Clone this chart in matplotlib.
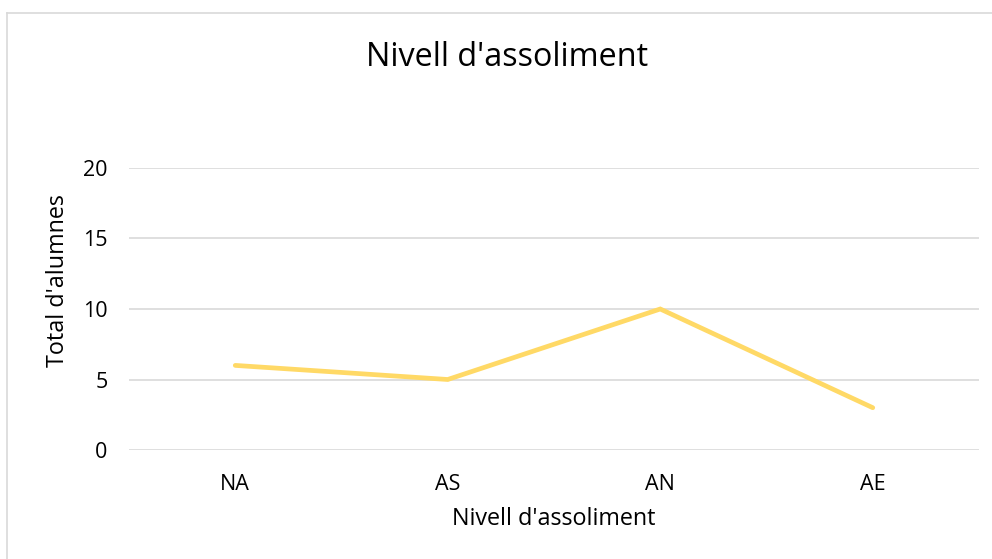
import matplotlib
matplotlib.use("Agg")
import matplotlib.pyplot as plt
from matplotlib.lines import Line2D

categories = ["NA", "AS", "AN", "AE"]
values = [6, 5, 10, 3]
yticks = [0, 5, 10, 15, 20]
title = "Nivell d'assoliment"
xlabel = "Nivell d'assoliment"
ylabel = "Total d'alumnes"

plt.rcParams['font.family'] = ['Open Sans', 'DejaVu Sans']

W, H = 992, 559
fig = plt.figure(figsize=(W / 100, H / 100), dpi=100)
fig.patch.set_facecolor('white')

# chart border (top and left visible)
fig.add_artist(Line2D([7 / W, 7 / W], [0, 1 - 13 / H], transform=fig.transFigure,
                      color='#D9D9D9', lw=1.2))
fig.add_artist(Line2D([7 / W, 1], [1 - 13 / H, 1 - 13 / H], transform=fig.transFigure,
                      color='#D9D9D9', lw=1.2))

left, right = 129 / W, 979 / W
bottom, top = 1 - 450 / H, 1 - 168 / H
ax = fig.add_axes([left, bottom, right - left, top - bottom])

x = list(range(len(categories)))
ax.plot(x, values, color='#FFD966', lw=3.4, solid_capstyle='round', solid_joinstyle='miter', zorder=3)

ax.set_xlim(-0.5, len(categories) - 0.5)
ax.set_ylim(0, 20)
ax.set_yticks(yticks)
ax.set_xticks(x)
ax.set_xticklabels(categories)
ax.yaxis.grid(True, color='#D9D9D9', lw=1.2)
ax.set_axisbelow(True)
for s in ax.spines.values():
    s.set_visible(False)
ax.tick_params(axis='both', length=0, labelsize=15.5, colors='#000000')
ax.tick_params(axis='y', pad=15.5)
ax.tick_params(axis='x', pad=17)

ax.set_xlabel(xlabel, fontsize=16.8, labelpad=9)
ax.set_ylabel(ylabel, fontsize=16.8, va='center')
ax.yaxis.set_label_coords((58 - 129) / 850, 0.60)

fig.text(507 / W, 1 - 58 / H, title, fontsize=23.3, ha='center', va='center')

fig.savefig('out.png', dpi=100)
